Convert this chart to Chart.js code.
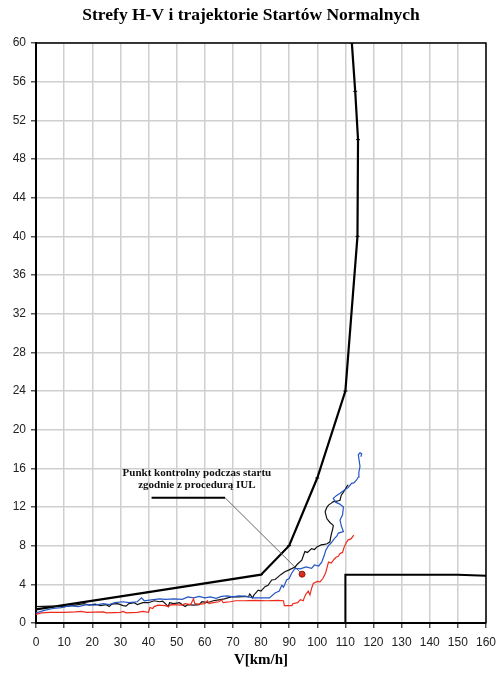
<!DOCTYPE html>
<html>
<head>
<meta charset="utf-8">
<script src="https://cdn.jsdelivr.net/npm/chart.js@4/dist/chart.umd.min.js"></script>
<style>
  body { margin: 0; background: #fff; }
  #wrap { width: 496px; height: 676px; }
</style>
</head>
<body>
<div id="wrap"><canvas id="hv"></canvas></div>
<script>
const chartTitle = "Strefy H-V i trajektorie Startów Normalnych";

// H-V zone boundary (km/h, m)
const hvV = [0, 40, 80, 90, 100, 110, 114.3, 114.5, 113.5, 112.3];
const hvH = [1.4, 3.2, 5, 8, 15, 24, 40, 50, 55, 60];

// low-height zone box at the right
const boxV = [110, 110, 150, 160];
const boxH = [0, 5, 5, 4.9];

// black take-off trajectory
const blackV = [0, 5, 10, 13, 15, 17, 19, 21, 23, 25, 26, 27, 29, 31, 32, 33, 35, 36, 38, 40, 42, 44, 45, 46, 47, 47.5, 49, 51, 53, 54, 56, 58, 59, 61, 63, 65, 67, 69.6, 72, 74.3, 75.5, 76, 77, 77.5, 79, 80, 81.4, 82.5, 83.8, 85, 86.2, 87, 88.5, 90, 92.1, 93, 94.5, 95, 95.6, 96.5, 98, 99, 100, 101.6, 102.2, 103.5, 104.5, 104.8, 105.1, 105.5, 105.7, 104.5, 103.4, 102.8, 103.3, 104, 105, 105.7, 107, 108.1, 108.5, 109.9, 110.5, 111];
const blackH = [1.7, 1.75, 1.7, 1.8, 1.9, 2.0, 1.85, 1.95, 1.8, 1.9, 1.7, 1.95, 2.0, 1.8, 1.75, 2.0, 2.1, 1.9, 2.1, 2.1, 2.3, 2.2, 2.25, 2.0, 1.7, 2.1, 2.0, 2.1, 1.7, 1.9, 1.85, 1.9, 2.2, 2.1, 2.3, 2.4, 2.5, 2.72, 2.7, 2.75, 2.7, 3.0, 2.6, 2.9, 3.4, 3.3, 3.76, 3.9, 4.45, 4.5, 4.8, 5.0, 5.3, 5.5, 5.8, 6.1, 6.5, 6.9, 7.4, 7.3, 7.7, 7.6, 7.9, 8.1, 8.1, 8.2, 8.4, 8.9, 9.3, 9.7, 10.1, 10.4, 10.8, 11.5, 11.9, 12.2, 12.4, 12.55, 12.6, 12.7, 13.2, 13.8, 14.1, 14.3];

// blue take-off trajectory
const blueV = [0, 3, 6, 9, 12, 15, 18, 21, 24, 26, 28, 31, 33, 36, 37.5, 38.5, 41, 44, 46, 49, 52, 54, 56, 58, 60, 62, 64, 66, 68, 70, 72, 75, 77, 80, 83, 85, 86.5, 87.4, 88, 89.1, 90, 91, 92.1, 94, 96, 98, 99, 100.5, 101.6, 102.5, 103, 104, 105, 106, 107, 107.5, 109.3, 108.6, 108.1, 109, 109.3, 108, 106.5, 105.7, 106.9, 108, 109.9, 111, 112.2, 113, 114, 114.6, 114.8, 115.2, 114.9, 114.6, 115.2, 115.8, 115.5];
const blueH = [1.05, 1.3, 1.5, 1.6, 1.8, 1.7, 1.9, 1.85, 2.0, 1.9, 2.1, 2.2, 2.1, 2.2, 2.6, 2.3, 2.4, 2.5, 2.45, 2.5, 2.45, 2.7, 2.6, 2.75, 2.6, 2.7, 2.55, 2.75, 2.8, 2.7, 2.8, 2.75, 2.6, 2.6, 2.6, 3.1, 3.3, 3.9, 3.7, 4.45, 4.6, 5.2, 5.65, 5.6, 5.8, 5.65, 6.0, 5.9, 6.3, 7.0, 7.5, 8.0, 8.3, 8.7, 9.0, 9.3, 9.45, 10.0, 10.65, 11.2, 12.0, 12.3, 12.5, 12.9, 13.2, 13.4, 13.8, 14.0, 14.45, 14.5, 14.8, 15.1, 15.6, 16.2, 16.8, 17.4, 17.6, 17.5, 17.2];

// red take-off trajectory
const redV = [0, 2, 5, 10, 14, 16, 18, 24, 25, 30, 31, 32, 36, 38, 40, 40.5, 41.5, 42, 43.4, 46, 47, 48, 52, 53, 55, 56, 56.5, 58, 60, 61, 61.5, 63, 65, 66, 66.5, 69, 71, 74, 78, 82, 86, 88, 88.3, 91, 91.3, 93, 94, 95, 95.5, 96, 96.8, 97.4, 98, 98.6, 100, 101, 102, 103, 103.4, 104, 105, 106, 106.7, 107.5, 108.1, 109, 109.5, 110.3, 111, 112, 113];
const redH = [0.9, 1.05, 1.1, 1.1, 1.15, 1.2, 1.1, 1.15, 1.05, 1.1, 1.2, 1.05, 1.1, 1.2, 1.1, 1.6, 1.5, 1.7, 1.85, 1.8, 1.7, 1.9, 1.85, 2.0, 1.9, 2.5, 2.0, 1.95, 2.0, 2.3, 2.0, 2.1, 2.2, 2.4, 2.1, 2.2, 2.3, 2.3, 2.35, 2.3, 2.35, 2.3, 1.8, 1.8, 2.0, 2.1, 2.4, 2.3, 2.7, 3.0, 3.3, 2.9, 3.6, 4.1, 4.3, 4.25, 4.6, 5.2, 5.65, 6.3, 6.2, 6.6, 6.8, 6.9, 7.2, 7.3, 7.8, 8.3, 8.6, 8.7, 9.1];

// check point and its callout
const checkV = [94.6];
const checkH = [5.05];
const underlineV = [41.1, 67.2];
const underlineH = [12.96, 12.96];
const leaderV = [67.2, 94.6];
const leaderH = [12.96, 5.05];
const noteLines = ["Punkt kontrolny podczas startu", "zgodnie z procedurą IUL"];
const noteAt = { x: 57.2, y: 15.5 };

const toPts = (vs, hs) => vs.map((v, i) => ({ x: v, y: hs[i] }));

// title, frame on top/right, callout text
const extras = {
  id: "extras",
  afterDatasetsDraw(chart) {
    const { ctx, chartArea: a, scales } = chart;
    ctx.save();
    ctx.strokeStyle = "#000";
    ctx.lineWidth = 1.5;
    ctx.beginPath();
    ctx.moveTo(a.left, a.top);
    ctx.lineTo(a.right, a.top);
    ctx.lineTo(a.right, a.bottom);
    ctx.stroke();

    ctx.textAlign = "center";
    ctx.textBaseline = "middle";
    ctx.fillStyle = "#000";
    ctx.font = "bold 17.5px 'Liberation Serif'";
    ctx.fillText(chartTitle, 251, 15);

    ctx.fillStyle = "#111";
    ctx.font = "bold 11px 'Liberation Serif'";
    const px = scales.x.getPixelForValue(noteAt.x);
    const py = scales.y.getPixelForValue(noteAt.y);
    noteLines.forEach((t, i) => ctx.fillText(t, px, py + i * 11.6));
    ctx.restore();
  },
};

const line = (vs, hs, color, width) => ({
  data: toPts(vs, hs),
  showLine: true,
  borderColor: color,
  borderWidth: width,
  pointRadius: 0,
  tension: 0,
});

new Chart(document.getElementById("hv"), {
  type: "scatter",
  plugins: [extras],
  data: {
    datasets: [
      line(redV, redH, "#ee2a1c", 1.2),
      line(blueV, blueH, "#2456c4", 1.2),
      line(blackV, blackH, "#111", 1.2),
      line(leaderV, leaderH, "#666", 1),
      line(underlineV, underlineH, "#000", 2),
      line(boxV, boxH, "#000", 2),
      Object.assign(line(hvV, hvH, "#000", 2.2), {
        pointRadius: 2, pointStyle: "line", pointBorderColor: "#000", pointBorderWidth: 1,
      }),
      {
        data: toPts(checkV, checkH),
        pointRadius: 3,
        backgroundColor: "#e8261a",
        borderColor: "#8a1a10",
        borderWidth: 1,
      },
    ],
  },
  options: {
    responsive: true,
    maintainAspectRatio: false,
    animation: false,
    layout: { padding: { left: 0, right: 10, top: 43, bottom: 0 } },
    plugins: {
      legend: { display: false },
      tooltip: { enabled: false },
      title: { display: false },
    },
    scales: {
      x: {
        type: "linear",
        min: 0,
        max: 160,
        afterFit: (s) => { s.height = 53; s.paddingLeft = 0; s.paddingRight = 0; },
        ticks: { stepSize: 10, color: "#222", padding: 7, font: { family: "Liberation Sans", size: 12 } },
        grid: { color: "#cfcfcf", lineWidth: 1.5, tickLength: 5, tickColor: "#555" },
        border: { color: "#000", width: 2 },
        title: {
          display: true,
          text: "V[km/h]",
          color: "#000",
          font: { family: "Liberation Serif", size: 15, weight: "bold" },
          padding: { top: 0, bottom: 7 },
        },
      },
      y: {
        min: 0,
        max: 60,
        afterFit: (s) => { s.width = 36; s.paddingTop = 0; s.paddingBottom = 0; },
        ticks: { stepSize: 4, color: "#222", padding: 5, font: { family: "Liberation Sans", size: 12 } },
        grid: { color: "#cfcfcf", lineWidth: 1.5, tickLength: 5, tickColor: "#555" },
        border: { color: "#000", width: 2 },
      },
    },
  },
});
</script>
</body>
</html>
